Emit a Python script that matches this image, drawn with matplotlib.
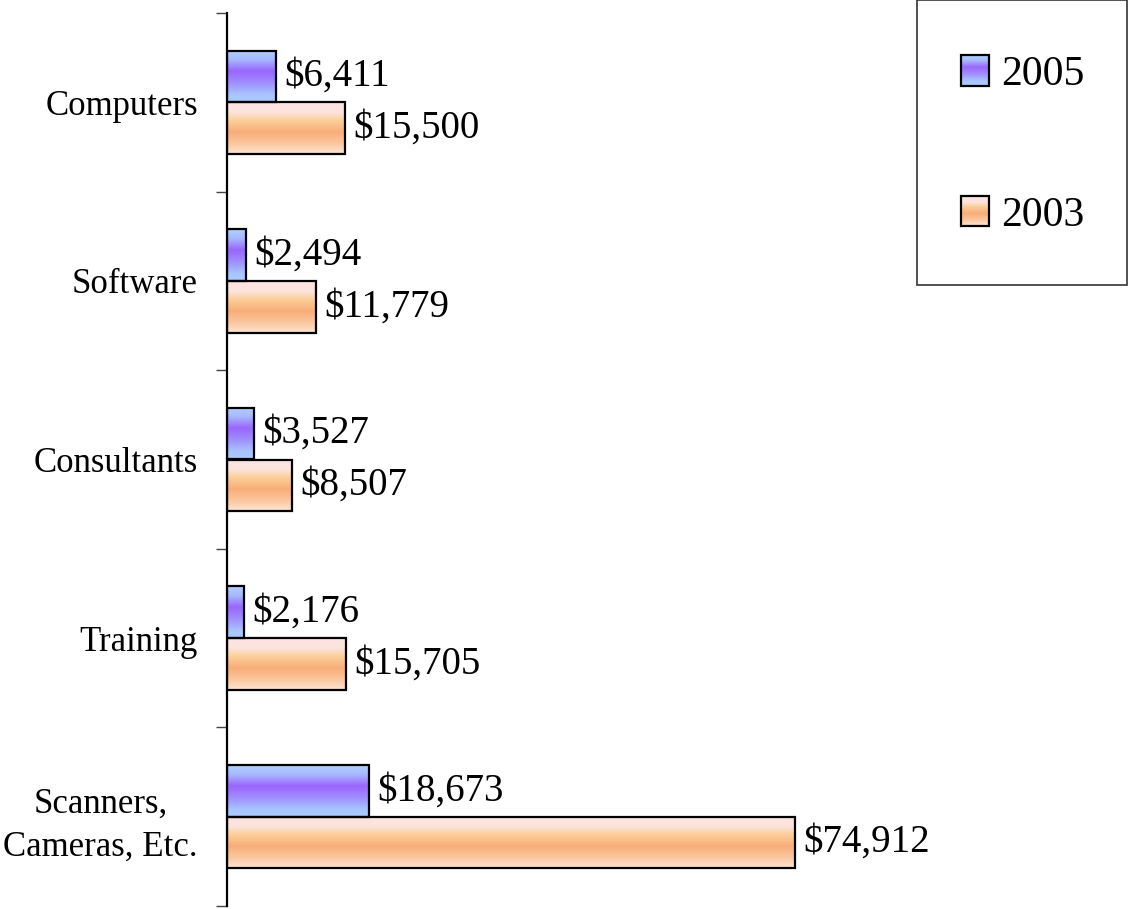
import numpy as np
import matplotlib.pyplot as plt
from matplotlib.colors import LinearSegmentedColormap
from matplotlib.patches import Rectangle
from matplotlib.legend_handler import HandlerBase

# Data
categories = ["Computers", "Software", "Consultants", "Training", "Scanners,\nCameras, Etc."]
spend_2005 = [6411, 2494, 3527, 2176, 18673]
spend_2003 = [15500, 11779, 8507, 15705, 74912]
series_labels = ["2005", "2003"]

plt.rcParams['font.family'] = ['Liberation Serif', 'DejaVu Serif']

# Excel-style gradient fills (top -> bottom)
cmap_2005 = LinearSegmentedColormap.from_list(
    "g2005", [(0, "#b0d2ff"), (0.18, "#a8b8ff"), (0.4, "#9a66ff"),
              (0.62, "#a08cff"), (0.85, "#a8c4ff"), (1, "#aaccff")])
cmap_2003 = LinearSegmentedColormap.from_list(
    "g2003", [(0, "#fde2e4"), (0.2, "#fce4dc"), (0.35, "#fbcf98"),
              (0.58, "#f8ad78"), (0.8, "#fbc79e"), (1, "#fde6d6")])

fig = plt.figure(figsize=(11.29, 9.09), dpi=100)
ax = fig.add_axes([227 / 1129, 3 / 909, 688 / 1129, 893 / 909])

y = np.arange(len(categories))[::-1]
h = 0.29
grad = np.linspace(0, 1, 256).reshape(-1, 1)


def gradient_bars(vals, offset, cmap):
    bars = ax.barh(y + offset, vals, height=h, align='edge', facecolor='none',
                   edgecolor='black', linewidth=1.6, zorder=3)
    for b in bars:
        x0, y0 = b.get_x(), b.get_y()
        im = ax.imshow(grad, cmap=cmap, origin='upper', aspect='auto', zorder=2,
                       extent=[x0, x0 + b.get_width(), y0, y0 + b.get_height()])
        im.set_clip_path(b)
    for b, v in zip(bars, vals):
        ax.annotate(f"${v:,}", xy=(v, b.get_y() + h / 2), xytext=(6, 0),
                    textcoords='offset points', va='center', ha='left', fontsize=28)
    return bars


gradient_bars(spend_2005, 0, cmap_2005)
gradient_bars(spend_2003, -h, cmap_2003)

ax.set_xlim(0, max(spend_2003) * 1.211)
ax.set_ylim(-0.5, len(categories) - 0.5)

# category boundary ticks (major) and labels at centres (minor)
ax.set_yticks(np.arange(-0.5, len(categories), 1.0))
ax.set_yticklabels([])
ax.set_yticks(y, minor=True)
ax.set_yticklabels(categories, minor=True, fontsize=25, multialignment='center',
                   linespacing=1.4)
ax.tick_params(axis='y', which='major', direction='out', length=8, width=1, color='#444444')
ax.tick_params(axis='y', which='minor', length=0, pad=21)
ax.tick_params(axis='x', bottom=False, labelbottom=False)
for s in ['top', 'right', 'bottom']:
    ax.spines[s].set_visible(False)
ax.spines['left'].set_linewidth(1.6)
ax.patch.set_alpha(0)


class GradientHandler(HandlerBase):
    def __init__(self, cmap):
        super().__init__()
        self.cmap = cmap

    def create_artists(self, legend, orig_handle, xdescent, ydescent,
                       width, height, fontsize, trans):
        n = 30
        arts = []
        for i in range(n):
            arts.append(Rectangle((-xdescent, -ydescent + height * (n - 1 - i) / n),
                                  width, height / n + 0.3, facecolor=self.cmap((i + 0.5) / n),
                                  edgecolor='none', transform=trans))
        arts.append(Rectangle((-xdescent, -ydescent), width, height, facecolor='none',
                              edgecolor='black', linewidth=1.6, transform=trans))
        return arts


h05 = Rectangle((0, 0), 1, 1)
h03 = Rectangle((0, 0), 1, 1)
fig.add_artist(Rectangle((917 / 1129, 1 - 285 / 909), 210 / 1129, 285 / 909,
                         transform=fig.transFigure, facecolor='white',
                         edgecolor='#333333', linewidth=1.2))
fig.legend([h05, h03], series_labels, loc='center',
           bbox_to_anchor=((917 + 1129) / 2 / 1129, 1 - 145 / 909),
           frameon=False, fontsize=30, labelspacing=2.45,
           handlelength=0.67, handleheight=0.74, handletextpad=0.3,
           handler_map={h05: GradientHandler(cmap_2005), h03: GradientHandler(cmap_2003)})

fig.savefig("out.png", dpi=100)
